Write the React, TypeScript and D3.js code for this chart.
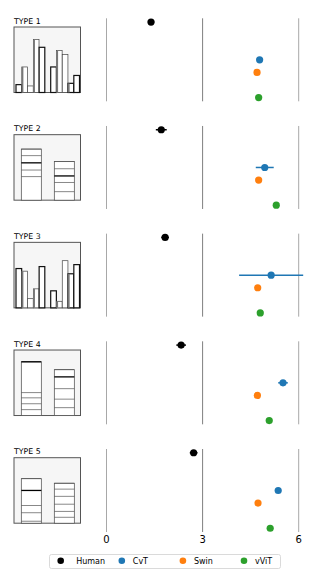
import { useEffect, useRef } from 'react'
import * as d3 from 'd3'

// stimulus types (one row each)
const types = ['TYPE 1', 'TYPE 2', 'TYPE 3', 'TYPE 4', 'TYPE 5']
const models = ['Human', 'CvT', 'Swin', 'vViT']
// row index of each model inside a panel
const modelSlots = [0, 3, 4, 6]
const colors = ['#000000', '#1f77b4', '#ff7f0e', '#2ca02c']

// mean error per type, one array per model
const humanMean = [1.39, 1.71, 1.83, 2.33, 2.72]
const humanErr = [0.1, 0.17, 0.12, 0.15, 0.12]
const cvtMean = [4.78, 4.94, 5.14, 5.51, 5.36]
const cvtErr = [0.05, 0.28, 1.0, 0.15, 0.05]
const swinMean = [4.7, 4.75, 4.72, 4.71, 4.73]
const swinErr = [0, 0, 0, 0, 0]
const vvitMean = [4.75, 5.3, 4.8, 5.08, 5.11]
const vvitErr = [0, 0, 0, 0, 0.08]

const xTicks = [0, 3, 6]

// bar stimuli heights (fraction of box) for types 1 and 3
const type1Bars = [0.12, 0.39, 0.1, 0.81, 0.69, 0.39, 0.64, 0.58, 0.14, 0.26]
const type3Bars = [0.6, 0.56, 0.14, 0.29, 0.63, 0.26, 0.1, 0.72, 0.52, 0.66]
// stacked stimuli: top of stack and the segment lines (fraction from top of box)
const stackLines = [
  null,
  [[0.22, 0.32, 0.43, 0.54, 0.64], [0.41, 0.52, 0.63, 0.73, 0.87]],
  null,
  [[0.18, 0.65, 0.73, 0.82, 0.91], [0.3, 0.41, 0.59, 0.75, 0.88]],
  [[0.32, 0.5, 0.73, 0.84, 0.97], [0.39, 0.48, 0.59, 0.71, 0.82, 0.91]],
]
const stackThick = [null, [2, 2], null, [0, 1], [1, -1]]

export default function App() {
  const ref = useRef<SVGSVGElement>(null)

  useEffect(() => {
    if (!ref.current) return
    const svg = d3.select(ref.current)
    svg.selectAll('*').remove()

    const font = 'DejaVu Sans, sans-serif'
    const means = [humanMean, cvtMean, swinMean, vvitMean]
    const errs = [humanErr, cvtErr, swinErr, vvitErr]

    const x = d3.scaleLinear().domain([0, 6]).range([106.5, 298.7])
    const panelTop = d3.scaleLinear().domain([0, 4]).range([18.3, 449])
    const panelH = 83

    types.forEach((t, i) => {
      const top = panelTop(i)
      const y = d3.scaleLinear().domain([-0.3, 6.3]).range([top, top + panelH])
      const g = svg.append('g')

      // vertical reference lines
      g.selectAll('line.v')
        .data(xTicks)
        .enter()
        .append('line')
        .attr('x1', d => x(d))
        .attr('x2', d => x(d))
        .attr('y1', top)
        .attr('y2', top + panelH)
        .attr('stroke', (d, k) => (k === 1 ? '#7f7f7f' : '#a8a8a8'))
        .attr('stroke-width', 1)

      models.forEach((m, k) => {
        const cy = y(modelSlots[k])
        const mu = means[k][i]
        const e = errs[k][i]
        if (e > 0) {
          g.append('line')
            .attr('x1', x(mu - e))
            .attr('x2', x(mu + e))
            .attr('y1', cy)
            .attr('y2', cy)
            .attr('stroke', colors[k])
            .attr('stroke-width', 1.5)
        }
        g.append('circle')
          .attr('cx', x(mu))
          .attr('cy', cy)
          .attr('r', 3.6)
          .attr('fill', colors[k])
      })

      // stimulus thumbnail
      const bx = 14
      const by = top + 8.7
      const bw = 66.5
      const bh = 65.5
      g.append('text')
        .attr('x', bx)
        .attr('y', by - 3.5)
        .attr('font-family', font)
        .attr('font-size', 7.8)
        .text(t)
      g.append('rect')
        .attr('x', bx)
        .attr('y', by)
        .attr('width', bw)
        .attr('height', bh)
        .attr('fill', '#f6f6f6')
        .attr('stroke', '#555')
        .attr('stroke-width', 1)

      const bars = i === 0 ? type1Bars : i === 2 ? type3Bars : null
      if (bars) {
        const bxs = d3.scaleBand<number>().domain(d3.range(11)).range([bx + 2, bx + bw - 1]).paddingInner(0.02)
        bars.forEach((h, k) => {
          const slot = k < 5 ? k : k + 1
          const thick = k % 5 === 0 || k % 5 === 4 || k === 8
          g.append('rect')
            .attr('x', bxs(slot)!)
            .attr('y', by + bh - h * bh)
            .attr('width', bxs.bandwidth())
            .attr('height', h * bh)
            .attr('fill', 'white')
            .attr('stroke', thick ? '#111' : '#444')
            .attr('stroke-width', thick ? 1.2 : 0.7)
          if (k % 5 === 1 || k % 5 === 3) {
            g.append('rect')
              .attr('x', bxs(slot)!)
              .attr('y', by + bh - h * bh)
              .attr('width', 1.6)
              .attr('height', h * bh)
              .attr('fill', '#777')
          }
        })
      }

      const stacks = stackLines[i]
      if (stacks) {
        const sx = [bx + 7.3, bx + 40.3]
        stacks.forEach((lines, s) => {
          const sTop = by + lines[0] * bh
          g.append('rect')
            .attr('x', sx[s])
            .attr('y', sTop)
            .attr('width', 20)
            .attr('height', by + bh - sTop)
            .attr('fill', 'white')
            .attr('stroke', '#444')
            .attr('stroke-width', 0.7)
          lines.forEach((f, n) => {
            g.append('line')
              .attr('x1', sx[s])
              .attr('x2', sx[s] + 20)
              .attr('y1', by + f * bh)
              .attr('y2', by + f * bh)
              .attr('stroke', n === stackThick[i]![s] ? '#000' : '#555')
              .attr('stroke-width', n === stackThick[i]![s] ? 1.3 : 0.7)
          })
        })
      }
    })

    // x tick labels
    svg.selectAll('text.tick')
      .data(xTicks)
      .enter()
      .append('text')
      .attr('x', d => x(d))
      .attr('y', 543)
      .attr('text-anchor', 'middle')
      .attr('font-family', font)
      .attr('font-size', 10)
      .text(d => d)

    // legend
    const lg = svg.append('g')
    lg.append('rect')
      .attr('x', 49.5)
      .attr('y', 554.5)
      .attr('width', 231)
      .attr('height', 14)
      .attr('rx', 2)
      .attr('fill', 'white')
      .attr('stroke', '#d0d0d0')
      .attr('stroke-width', 0.8)
    const lx = d3.scalePoint<string>().domain(models).range([60.7, 244])
    models.forEach((m, k) => {
      lg.append('circle')
        .attr('cx', lx(m)!)
        .attr('cy', 560.8)
        .attr('r', 3.3)
        .attr('fill', colors[k])
      lg.append('text')
        .attr('x', lx(m)! + (k === 0 ? 15.5 : 11))
        .attr('y', 563.6)
        .attr('font-family', font)
        .attr('font-size', 8)
        .text(m)
    })
  }, [])

  return (
    <svg
      ref={ref}
      width={317}
      height={584}
      style={{ position: 'absolute', left: 0, top: 0, background: 'white' }}
    />
  )
}
